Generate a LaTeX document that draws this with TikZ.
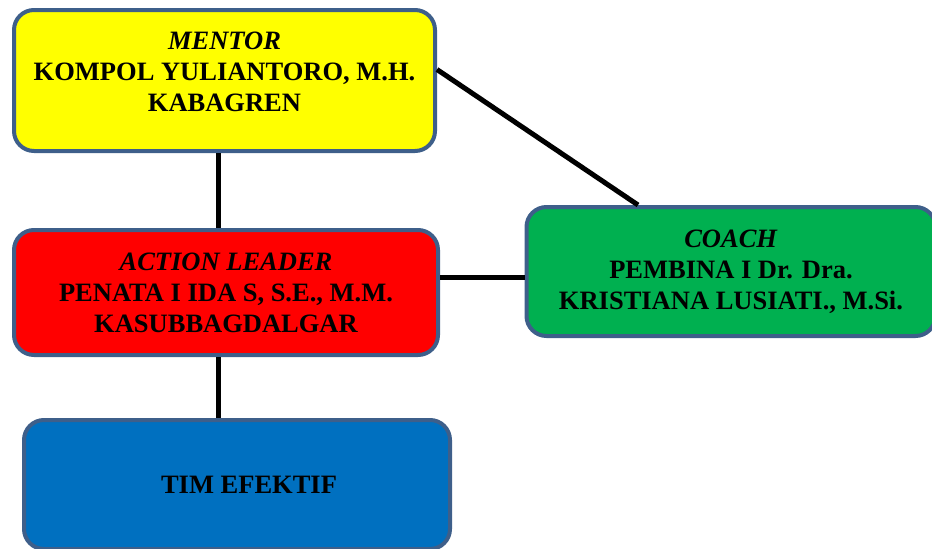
\documentclass[tikz,border=0pt]{standalone}
\usepackage{fontspec}
\setmainfont{Liberation Serif}
\definecolor{boxline}{HTML}{3E5F8A}
\definecolor{mentorfill}{HTML}{FFFF00}
\definecolor{leaderfill}{HTML}{FF0000}
\definecolor{coachfill}{HTML}{00B050}
\definecolor{timfill}{HTML}{0070C0}

\begin{document}
\begin{tikzpicture}[x=1pt,y=-1pt,
  box/.style={draw=boxline, line width=4pt, rounded corners=20pt, align=center,
    font=\bfseries\fontsize{26.5}{31}\selectfont},
  link/.style={line width=5pt, black}]
\useasboundingbox (0,0) rectangle (932,549);

\node[box, fill=mentorfill, minimum width=421pt, minimum height=141pt](m) at (224.5,80.5)
  {\textit{MENTOR}\\KOMPOL YULIANTORO, M.H.\\KABAGREN\\[-14pt]\mbox{}};
\node[box, fill=leaderfill, minimum width=424pt, minimum height=125pt](l) at (226,292.5)
  {\textit{ACTION LEADER}\\PENATA I IDA S, S.E., M.M.\\KASUBBAGDALGAR};
\node[box, fill=coachfill, minimum width=409pt, minimum height=129pt](c) at (731,271.5)
  {\textit{COACH}\\PEMBINA I Dr. Dra.\\KRISTIANA LUSIATI., M.Si.};
\node[box, fill=timfill, minimum width=426pt, minimum height=129pt](t) at (237,484.5)
  {\hspace*{24pt}TIM EFEKTIF};

\draw[link] ([xshift=-6pt]m.south) -- ([xshift=-6pt]m.south |- l.north);
\draw[link] ([xshift=-6pt]m.south |- l.south) -- ([xshift=-6pt]m.south |- t.north);
\draw[link] ([yshift=-5.5pt]c.west) -- ([yshift=-5.5pt]c.west -| l.east);
\draw[link] ([yshift=11pt]m.east) -- ([xshift=-93pt]c.north);

\end{tikzpicture}
\end{document}
